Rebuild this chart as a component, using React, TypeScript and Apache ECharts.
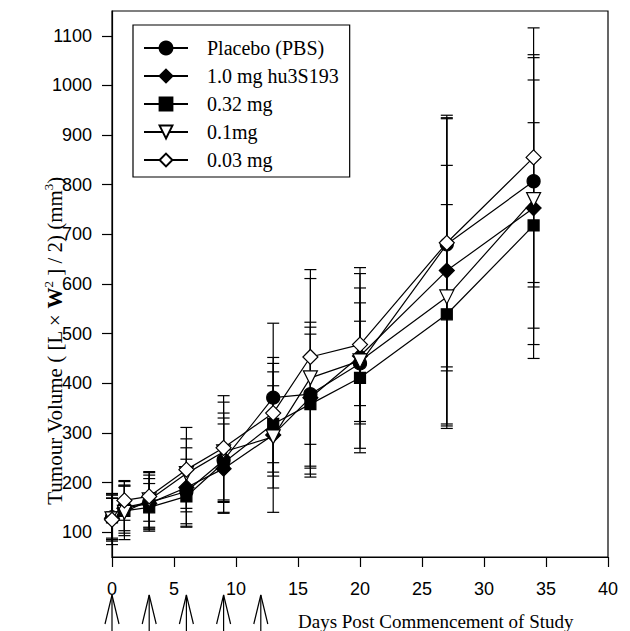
import React, { useEffect, useRef } from "react";
import * as echarts from "echarts";

const days = [0, 1, 3, 6, 9, 13, 16, 20, 27, 34];
const seriesNames = ["Placebo (PBS)", "1.0 mg hu3S193", "0.32 mg", "0.1mg", "0.03 mg"];
const placebo = [130, 150, 160, 182, 245, 371, 378, 440, 680, 807];
const placeboSem = [45, 52, 55, 65, 85, 150, 145, 85, 255, 204];
const mg10 = [128, 148, 158, 190, 228, 296, 371, 455, 627, 753];
const mg10Sem = [40, 45, 50, 80, 90, 156, 142, 137, 313, 303];
const mg032 = [130, 143, 150, 172, 240, 318, 358, 411, 539, 718];
const mg032Sem = [48, 50, 48, 60, 100, 105, 141, 151, 221, 207];
const mg01 = [127, 140, 165, 218, 262, 292, 411, 445, 574, 770];
const mg01Sem = [42, 55, 55, 70, 100, 103, 200, 176, 265, 292];
const mg003 = [125, 164, 172, 226, 270, 340, 453, 478, 683, 855];
const mg003Sem = [50, 40, 50, 85, 105, 100, 176, 155, 250, 261];
const yTickValues = [100, 200, 300, 400, 500, 600, 700, 800, 900, 1000, 1100];
const doseDays = [0, 3, 6, 9, 12];

const means = [placebo, mg10, mg032, mg01, mg003];
const sems = [placeboSem, mg10Sem, mg032Sem, mg01Sem, mg003Sem];
const symbols = ["circle", "diamond", "rect", "triangle", "diamond"];
const symbolSizes = [13, 15, 11, 14, 15];
const fills = ["#000", "#000", "#000", "#fff", "#fff"];
const rotates = [0, 0, 0, 180, 0];

export default function App() {
  const ref = useRef<HTMLDivElement>(null);
  useEffect(() => {
    if (!ref.current) return;
    const chart = echarts.init(ref.current, null, { renderer: "svg" });
    const series: any[] = [];
    means.forEach((m, i) => {
      series.push({
        type: "custom",
        name: seriesNames[i] + " err",
        coordinateSystem: "cartesian2d",
        silent: true,
        z: 2,
        data: days.map((d, j) => [d, m[j] - sems[i][j], m[j] + sems[i][j]]),
        encode: { x: 0, y: [1, 2] },
        renderItem: (params: any, api: any) => {
          const lo = api.coord([api.value(0), api.value(1)]);
          const hi = api.coord([api.value(0), api.value(2)]);
          const w = 6;
          const st = { stroke: "#000", lineWidth: 1.2 };
          return {
            type: "group",
            children: [
              { type: "line", shape: { x1: lo[0], y1: lo[1], x2: hi[0], y2: hi[1] }, style: st },
              { type: "line", shape: { x1: lo[0] - w, y1: lo[1], x2: lo[0] + w, y2: lo[1] }, style: st },
              { type: "line", shape: { x1: hi[0] - w, y1: hi[1], x2: hi[0] + w, y2: hi[1] }, style: st },
            ],
          };
        },
      });
    });
    means.forEach((m, i) => {
      series.push({
        type: "line",
        name: seriesNames[i],
        data: days.map((d, j) => [d, m[j]]),
        symbol: symbols[i],
        symbolSize: symbolSizes[i],
        symbolRotate: rotates[i],
        showAllSymbol: true,
        z: 3 + i,
        lineStyle: { color: "#000", width: 1.2 },
        itemStyle: { color: fills[i], borderColor: "#000", borderWidth: 1.2 },
      });
    });
    series.push({
      type: "custom",
      name: "dose",
      coordinateSystem: "cartesian2d",
      silent: true,
      clip: false,
      data: doseDays.map((d) => [d, 50]),
      encode: { x: 0, y: 1 },
      renderItem: (params: any, api: any) => {
        const p = api.coord([api.value(0), api.value(1)]);
        const tip = p[1] + 38;
        const st = { stroke: "#000", lineWidth: 1.2, fill: "none" };
        return {
          type: "group",
          children: [
            { type: "line", shape: { x1: p[0], y1: tip, x2: p[0], y2: p[1] + 76 }, style: st },
            { type: "polyline", shape: { points: [[p[0] - 7, tip + 29], [p[0], tip], [p[0] + 7, tip + 29]] }, style: st },
          ],
        };
      },
    });

    chart.setOption({
      animation: false,
      backgroundColor: "#fff",
      grid: { left: 112, right: 22, top: 11, bottom: 74, show: true, borderColor: "#000", borderWidth: 1.2 },
      legend: {
        data: seriesNames,
        orient: "vertical",
        left: 133,
        top: 25,
        itemWidth: 44,
        itemHeight: 16,
        itemGap: 8,
        padding: [13, 11, 7, 10],
        borderColor: "#000",
        borderWidth: 1.2,
        backgroundColor: "#fff",
        textStyle: { fontFamily: "Liberation Serif", fontSize: 20, color: "#000", lineHeight: 20, padding: [0, 0, 0, 14] },
      },
      xAxis: {
        type: "value",
        min: 0,
        max: 40,
        interval: 5,
        splitLine: { show: false },
        axisLine: { onZero: false, lineStyle: { color: "#000", width: 1.2 } },
        axisTick: { show: true, length: 10, lineStyle: { color: "#000", width: 1.2 } },
        axisLabel: { fontFamily: "Liberation Sans", fontSize: 18, color: "#000", margin: 23 },
      },
      yAxis: {
        type: "value",
        min: 50,
        max: 1150,
        splitLine: { show: false },
        axisLine: { show: true, lineStyle: { color: "#000", width: 1.2 } },
        axisTick: { show: true, length: 10, customValues: yTickValues, lineStyle: { color: "#000", width: 1.2 } },
        axisLabel: {
          fontFamily: "Liberation Sans",
          fontSize: 18,
          color: "#000",
          margin: 20,
          customValues: yTickValues,
          formatter: (v: number) => String(v),
        },
      },
      graphic: [
        {
          type: "text",
          x: 55,
          y: 341,
          rotation: Math.PI / 2,
          style: {
            text: "{n|Tumour Volume ( [L × }{b|W}{sup|2}{n| ] / 2) (mm}{sup|3}{n|)}",
            align: "center",
            verticalAlign: "middle",
            rich: {
              n: { fontFamily: "Liberation Serif", fontSize: 21, color: "#000", lineHeight: 26 },
              b: { fontFamily: "Liberation Serif", fontSize: 21, fontWeight: "bold", color: "#000", lineHeight: 26 },
              sup: { fontFamily: "Liberation Serif", fontSize: 13, color: "#000", lineHeight: 13, verticalAlign: "top" },
            },
          },
        },
        {
          type: "text",
          x: 298,
          y: 621,
          style: {
            text: "Days Post Commencement of Study",
            fontFamily: "Liberation Serif",
            fontSize: 19,
            fill: "#000",
            align: "left",
            verticalAlign: "middle",
          },
        },
      ],
      series,
    });
    return () => chart.dispose();
  }, []);
  return <div ref={ref} style={{ width: 630, height: 631, position: "absolute", left: 0, top: 0 }} />;
}
